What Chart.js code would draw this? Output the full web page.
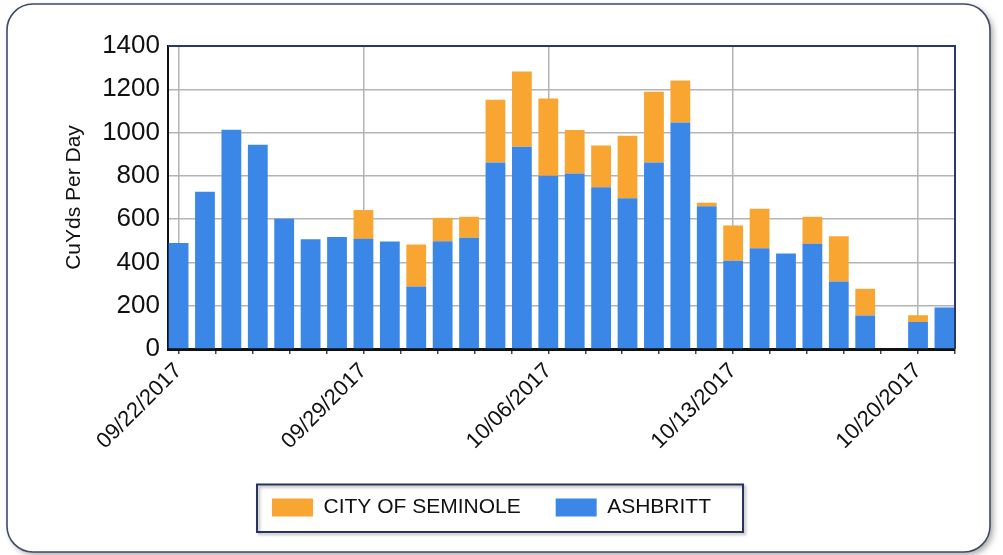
<!DOCTYPE html>
<html>
<head>
<meta charset="utf-8">
<script src="https://cdn.jsdelivr.net/npm/chart.js@4.4.1/dist/chart.umd.min.js"></script>
<style>
  html, body { margin: 0; padding: 0; background: #ffffff; }
  #wrap { width: 1003px; height: 555px; }
</style>
</head>
<body>
<div id="wrap"><canvas id="barChart" width="1003" height="555"></canvas></div>
<script>
// days on the x axis
const dates = [
  "09/22/2017", "09/23/2017", "09/24/2017", "09/25/2017", "09/26/2017",
  "09/27/2017", "09/28/2017", "09/29/2017", "09/30/2017", "10/01/2017",
  "10/02/2017", "10/03/2017", "10/04/2017", "10/05/2017", "10/06/2017",
  "10/07/2017", "10/08/2017", "10/09/2017", "10/10/2017", "10/11/2017",
  "10/12/2017", "10/13/2017", "10/14/2017", "10/15/2017", "10/16/2017",
  "10/17/2017", "10/18/2017", "10/19/2017", "10/20/2017", "10/21/2017"
];
// CuYds per day
const ashbritt = [490, 727, 1013, 944, 602, 507, 518, 509, 497, 289,
  498, 514, 862, 934, 800, 811, 747, 696, 862, 1047,
  660, 408, 466, 441, 486, 312, 155, 0, 125, 192];
const seminole = [0, 0, 0, 0, 0, 0, 0, 133, 0, 194,
  108, 97, 290, 348, 357, 201, 193, 289, 327, 194,
  16, 163, 182, 0, 125, 209, 123, 0, 31, 0];
const yTicks = [0, 200, 400, 600, 800, 1000, 1200, 1400];

const isWeek = (v) => Math.abs(v / 7 - Math.round(v / 7)) < 1e-6;

Chart.defaults.font.family = '"Liberation Sans", Arial, Helvetica, sans-serif';
Chart.defaults.color = "#111";

// rounded panel behind everything
const panel = {
  id: "panel",
  beforeDraw(chart) {
    const c = chart.ctx;
    c.save();
    c.fillStyle = "#ffffff";
    c.fillRect(0, 0, chart.width, chart.height);
    c.beginPath();
    c.roundRect(7, 4, 983, 548, 26);
    c.shadowColor = "rgba(0,0,0,0.35)";
    c.shadowBlur = 6;
    c.shadowOffsetX = 3;
    c.shadowOffsetY = 3;
    c.fillStyle = "#ffffff";
    c.fill();
    c.shadowColor = "transparent";
    c.lineWidth = 1.6;
    c.strokeStyle = "#3e4a6a";
    c.stroke();
    c.restore();
  },
  afterDraw(chart) {
    const c = chart.ctx;
    const a = chart.chartArea;
    // top + right frame of plot
    c.save();
    c.strokeStyle = "#2c3966";
    c.lineWidth = 2;
    c.beginPath();
    c.moveTo(a.left, a.top);
    c.lineTo(a.right, a.top);
    c.lineTo(a.right, a.bottom);
    c.stroke();
    // legend box
    const hb = chart.legend.legendHitBoxes;
    if (hb && hb.length) {
      const last = hb[hb.length - 1];
      const x0 = hb[0].left - 15;
      const x1 = last.left + last.width + 32;
      const y0 = hb[0].top - 12.5;
      const y1 = hb[0].top + hb[0].height + 14;
      c.shadowColor = "rgba(0,0,0,0.3)";
      c.shadowBlur = 3;
      c.shadowOffsetX = 2;
      c.shadowOffsetY = 2;
      c.strokeStyle = "#27345a";
      c.lineWidth = 2;
      c.strokeRect(x0, y0, x1 - x0, y1 - y0);
    }
    c.restore();
  }
};

const ctx = document.getElementById("barChart");
new Chart(ctx, {
  type: "bar",
  data: {
    labels: dates.map((d, i) => i),
    datasets: [
      {
        label: "ASHBRITT",
        data: ashbritt,
        backgroundColor: "#3b87e8",
        barPercentage: 0.75,
        categoryPercentage: 1,
      },
      {
        label: "CITY OF SEMINOLE",
        data: seminole,
        backgroundColor: "#f8a631",
        barPercentage: 0.75,
        categoryPercentage: 1,
      },
    ],
  },
  options: {
    responsive: false,
    animation: false,
    layout: { padding: { left: 28, right: 48, top: 46, bottom: 27 } },
    plugins: {
      tooltip: { enabled: false },
      legend: {
        position: "bottom",
        reverse: true,
        labels: {
          boxWidth: 41,
          boxHeight: 18,
          padding: 35,
          color: "#111",
          font: { size: 21 },
        },
      },
    },
    scales: {
      x: {
        type: "linear",
        stacked: true,
        offset: false,
        min: -0.4,
        max: 29.4,
        afterBuildTicks: (s) => {
          const t = [];
          for (let k = 0; k <= 21; k++) t.push({ value: Math.round(k * 14) / 10 });
          s.ticks = t;
        },
        afterFit: (s) => { s.height = 113; },
        ticks: {
          autoSkip: false,
          minRotation: 45,
          maxRotation: 45,
          padding: 4,
          font: { size: 22 },
          color: "#111",
          callback: (v) => (isWeek(v) ? dates[Math.round(v)] : ""),
        },
        grid: {
          offset: false,
          lineWidth: 1.5,
          color: (c) => (c.tick && isWeek(c.tick.value) ? "#b4b4b4" : "rgba(0,0,0,0)"),
          tickColor: "#444",
          tickLength: 5,
        },
        border: { color: "#111", width: 3 },
      },
      y: {
        stacked: true,
        min: 0,
        max: 1400,
        afterBuildTicks: (s) => { s.ticks = yTicks.map((v) => ({ value: v })); },
        afterFit: (s) => { s.width = 140; },
        ticks: {
          padding: 8,
          font: { size: 26 },
          color: "#111",
          callback: (v) => String(v),
        },
        grid: { color: "#b4b4b4", lineWidth: 1.5, drawTicks: false },
        border: { color: "#111", width: 2 },
        title: {
          display: true,
          text: "CuYds Per Day",
          font: { size: 21 },
          color: "#111",
          padding: { top: 34, bottom: 0 },
        },
      },
    },
  },
  plugins: [panel],
});
</script>
</body>
</html>
